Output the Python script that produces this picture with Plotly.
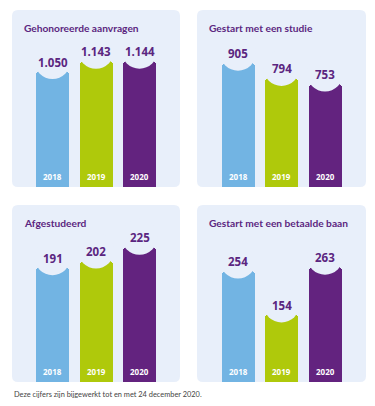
import plotly.graph_objects as go

# ---------------- data ----------------
YEARS = ["2018", "2019", "2020"]
TITLES = [
    "Gehonoreerde aanvragen",
    "Gestart met een studie",
    "Afgestudeerd",
    "Gestart met een betaalde baan",
]
AANVRAGEN = [1050, 1143, 1144]
STUDIE = [905, 794, 753]
AFGESTUDEERD = [191, 202, 225]
BETAALDE_BAAN = [254, 154, 263]
FOOTNOTE = "Deze cijfers zijn bijgewerkt tot en met 24 december 2020."

SERIES = [AANVRAGEN, STUDIE, AFGESTUDEERD, BETAALDE_BAAN]

# ---------------- styling / layout ----------------
W, H = 375, 406
FONT = "Open Sans"
TITLE_FONT = "Lato"
PANEL_BG = "#e8effa"
TITLE_COLOR = "#5b2680"
BAR_COLORS = ["#72b4e3", "#afc90b", "#63237f"]
# panel boxes in pixels: left, top, right, bottom
PANELS = [(12, 10, 180, 187), (197, 10, 366, 187), (12, 205, 180, 382), (197, 205, 366, 382)]
Y_MAX = [1603, 1289, 294.5, 403.6]   # per-panel value-axis maxima
SPACING = 43.5   # px between bar centres
BAR_W = 33       # px
SCOOP_R = 18     # px radius of the concave top
SCOOP_DEPTH = 8  # px


def px_x(px):
    return px / W


def px_y(py):
    return 1 - py / H


def rounded_rect(l, t, r, b, rad=6):
    x0, x1 = px_x(l), px_x(r)
    y0, y1 = px_y(b), px_y(t)
    rx, ry = rad / W, rad / H
    return (f"M{x0+rx},{y1} L{x1-rx},{y1} Q{x1},{y1} {x1},{y1-ry} "
            f"L{x1},{y0+ry} Q{x1},{y0} {x1-rx},{y0} L{x0+rx},{y0} "
            f"Q{x0},{y0} {x0},{y0+ry} L{x0},{y1-ry} Q{x0},{y1} {x0+rx},{y1} Z")


def fmt(v):
    return f"{v:,}".replace(",", ".")


fig = go.Figure()
shapes, annotations = [], []
layout_axes = {}
xs = list(range(len(YEARS)))

for k, vals in enumerate(SERIES):
    l, t, r, b = PANELS[k]
    suffix = "" if k == 0 else str(k + 1)
    xa, ya = "x" + suffix, "y" + suffix
    half = (r - l) / 2 / SPACING
    mid = (len(YEARS) - 1) / 2
    layout_axes["xaxis" + suffix] = dict(
        domain=[px_x(l), px_x(r)], range=[mid - half, mid + half],
        visible=False, fixedrange=True, anchor=ya)
    layout_axes["yaxis" + suffix] = dict(
        domain=[px_y(b), px_y(t)], range=[0, Y_MAX[k]],
        visible=False, fixedrange=True, anchor=xa)

    fig.add_trace(go.Bar(
        x=xs, y=vals, xaxis=xa, yaxis=ya,
        width=BAR_W / SPACING,
        marker=dict(color=BAR_COLORS, line=dict(width=0), cornerradius=4),
        hoverinfo="skip", showlegend=False))

    shapes.append(dict(type="path", xref="paper", yref="paper",
                       path=rounded_rect(l, t, r, b), fillcolor=PANEL_BG,
                       line=dict(width=0), layer="below"))

    for i, v in zip(xs, vals):
        shapes.append(dict(
            type="circle", xref=xa, yref=ya,
            xsizemode="pixel", ysizemode="pixel",
            xanchor=i, yanchor=v,
            x0=-SCOOP_R, x1=SCOOP_R,
            y0=-SCOOP_DEPTH, y1=2 * SCOOP_R - SCOOP_DEPTH,
            fillcolor=PANEL_BG, line=dict(width=0), layer="above"))
        annotations.append(dict(
            x=i, y=v, xref=xa, yref=ya, text=fmt(v), showarrow=False,
            yshift=9, yanchor="middle", xanchor="center",
            font=dict(family=FONT, size=11.5, color=TITLE_COLOR, weight="bold")))
        annotations.append(dict(
            x=i, y=0, xref=xa, yref=ya, text=YEARS[i], showarrow=False,
            yshift=11, yanchor="middle", xanchor="center",
            font=dict(family=FONT, size=8, color="white", weight="bold")))

    annotations.append(dict(
        x=px_x(l + 10), y=px_y(t + 18), xref="paper", yref="paper",
        text=TITLES[k], showarrow=False, xanchor="left", yanchor="middle",
        font=dict(family=TITLE_FONT, size=10.2, color=TITLE_COLOR, weight="bold")))

annotations.append(dict(
    x=px_x(12), y=px_y(394), xref="paper", yref="paper", text=FOOTNOTE,
    showarrow=False, xanchor="left", yanchor="middle",
    font=dict(family="Lato", size=7.4, color="#444444")))

fig.update_layout(
    width=W, height=H, autosize=False,
    margin=dict(l=0, r=0, t=0, b=0),
    paper_bgcolor="white", plot_bgcolor="rgba(0,0,0,0)",
    shapes=shapes, annotations=annotations, bargap=0,
    **layout_axes)

fig.write_html("out.html", config={"displayModeBar": False},
               post_script="document.body.style.margin='0';document.body.style.padding='0';")
